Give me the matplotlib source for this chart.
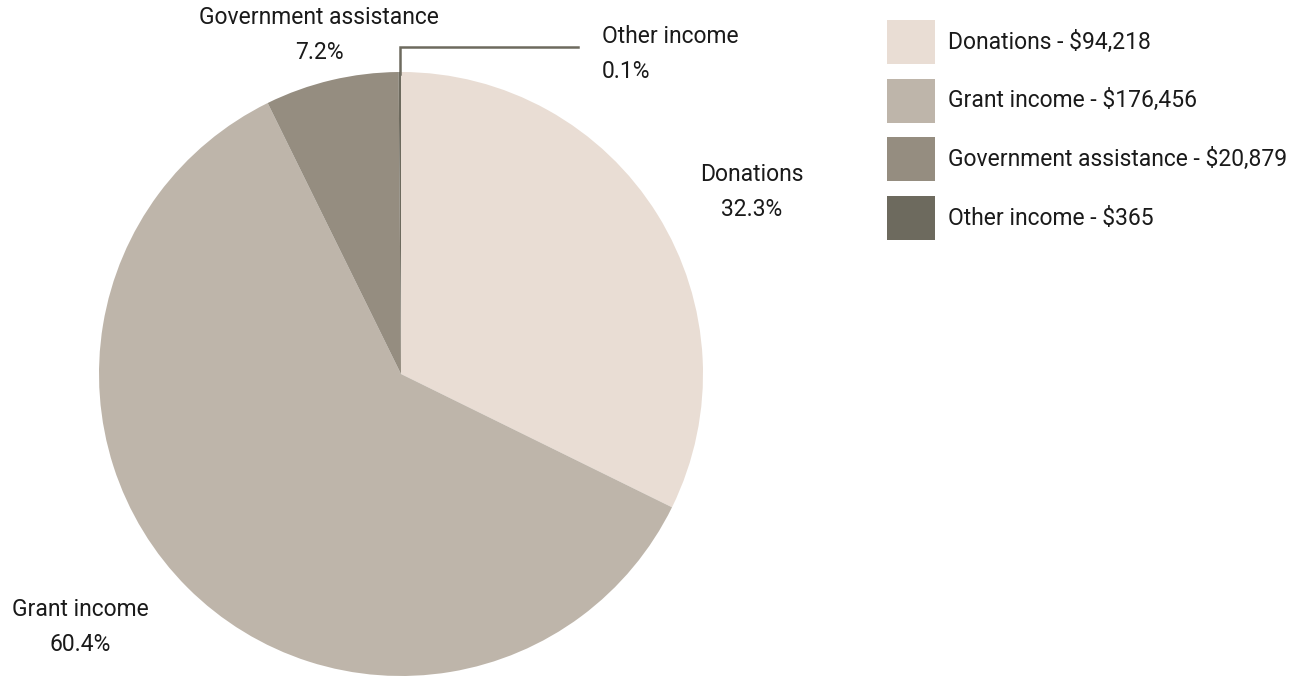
import matplotlib.pyplot as plt
from matplotlib.patches import Rectangle

plt.rcParams['font.family'] = ['Roboto', 'DejaVu Sans']

# Income data
categories = ['Donations', 'Grant income', 'Government assistance', 'Other income']
amounts = [94218, 176456, 20879, 365]
colors = ['#E9DDD4', '#BEB5AA', '#958D80', '#6D6A5E']

W, H = 1315, 676
fig = plt.figure(figsize=(W / 100, H / 100), dpi=100)
ax = fig.add_axes([0, 0, 1, 1])

# Pie in pixel coordinates (y measured from bottom)
cx, cy, r = 401, H - 374, 302
ax.pie(amounts, colors=colors, startangle=90, counterclock=False,
       center=(cx, cy), radius=r, frame=True,
       wedgeprops={'linewidth': 0})
ax.set_xlim(0, W)
ax.set_ylim(0, H)
ax.set_aspect('equal')
ax.axis('off')

total = sum(amounts)
pcts = [a / total * 100 for a in amounts]

# Slice labels (pixel positions from top)
label_pos = [(752, 192, 'center'), (80, 627, 'center'),
             (319, 35, 'center'), (602, 54, 'left')]
for name, p, (lx, ly, ha) in zip(categories, pcts, label_pos):
    ax.text(lx, H - ly, f'{name}\n{p:.1f}%', ha=ha, va='center',
            fontsize=16.5, color='#1a1a1a', linespacing=1.72)

# Leader line for the tiny slice
ax.plot([400, 400, 578], [H - 74, H - 47, H - 47], color='#6D6A5E', lw=1.8,
        solid_joinstyle='miter')

# Legend
for i, (name, amt, c) in enumerate(zip(categories, amounts, colors)):
    top = 20 + i * 58.7
    ax.add_patch(Rectangle((887, H - top - 44), 48, 44, color=c, lw=0))
    ax.text(948, H - top - 22, f'{name} - ${amt:,}', ha='left', va='center',
            fontsize=16.5, color='#1a1a1a')

fig.savefig('out.png', dpi=100)
